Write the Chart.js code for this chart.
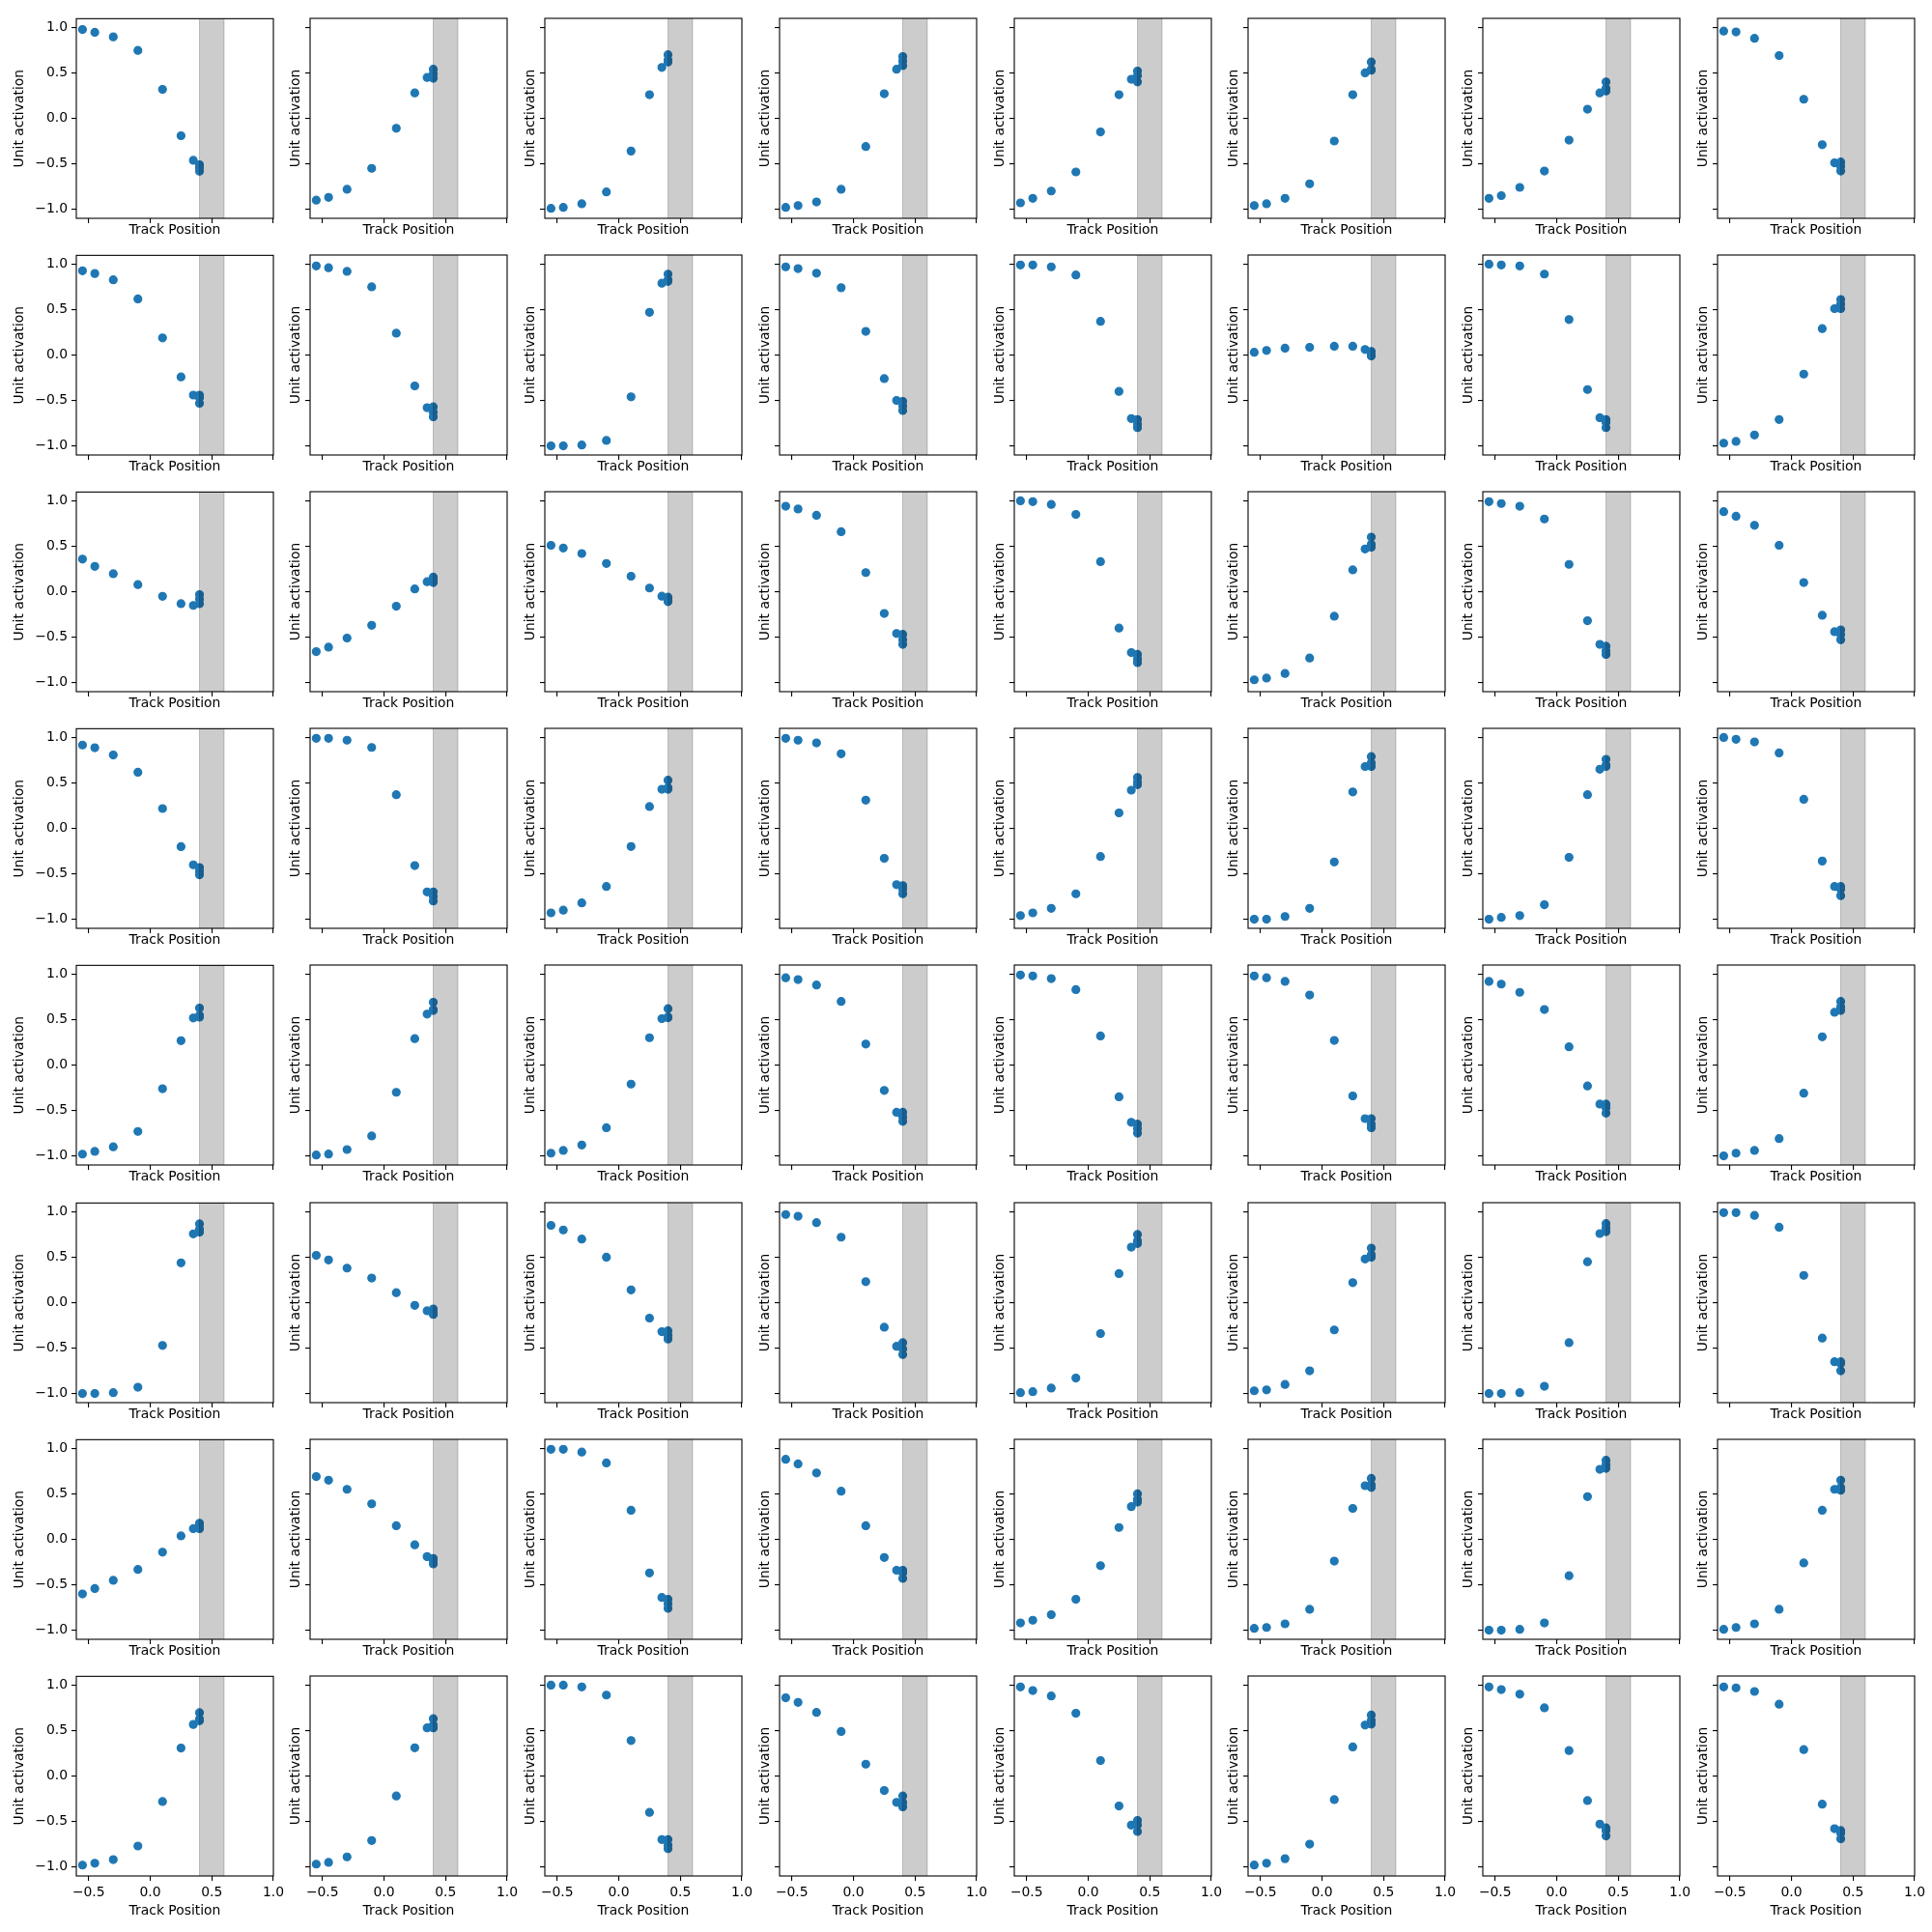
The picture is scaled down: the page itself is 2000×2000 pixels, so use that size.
<!DOCTYPE html>
<html><head><meta charset="utf-8">
<script src="https://cdn.jsdelivr.net/npm/chart.js@4/dist/chart.umd.min.js"></script>
<style>
html,body{margin:0;padding:0;background:#fff;}
#wrap{position:relative;width:2000px;height:2000px;overflow:hidden;background:#fff;}
#wrap canvas{position:absolute;}
</style></head><body><div id="wrap"></div>
<script>
// ---- data ----
const trackPositions = [-0.55, -0.45, -0.3, -0.1, 0.1, 0.25, 0.35, 0.4, 0.4, 0.4];
const unit1  = [0.98, 0.95, 0.90, 0.75, 0.32, -0.19, -0.46, -0.51, -0.54, -0.58];
const unit2  = [-0.90, -0.87, -0.78, -0.55, -0.11, 0.28, 0.45, 0.54, 0.49, 0.44];
const unit3  = [-0.99, -0.98, -0.94, -0.81, -0.36, 0.26, 0.56, 0.70, 0.64, 0.62];
const unit4  = [-0.98, -0.96, -0.92, -0.78, -0.31, 0.27, 0.54, 0.68, 0.63, 0.58];
const unit5  = [-0.93, -0.88, -0.80, -0.59, -0.15, 0.26, 0.43, 0.52, 0.47, 0.40];
const unit6  = [-0.96, -0.94, -0.88, -0.72, -0.25, 0.26, 0.50, 0.62, 0.54, 0.53];
const unit7  = [-0.88, -0.85, -0.76, -0.58, -0.24, 0.10, 0.28, 0.40, 0.33, 0.30];
const unit8  = [0.96, 0.95, 0.88, 0.69, 0.21, -0.29, -0.49, -0.48, -0.53, -0.58];
const unit9  = [0.93, 0.90, 0.83, 0.62, 0.19, -0.24, -0.44, -0.44, -0.47, -0.53];
const unit10 = [0.98, 0.96, 0.92, 0.75, 0.24, -0.34, -0.58, -0.57, -0.63, -0.68];
const unit11 = [-1.00, -1.00, -0.99, -0.94, -0.46, 0.47, 0.79, 0.89, 0.83, 0.81];
const unit12 = [0.97, 0.95, 0.90, 0.74, 0.26, -0.26, -0.50, -0.51, -0.56, -0.61];
const unit13 = [0.99, 0.99, 0.97, 0.88, 0.37, -0.40, -0.70, -0.71, -0.76, -0.80];
const unit14 = [0.03, 0.05, 0.075, 0.085, 0.096, 0.096, 0.06, 0.04, 0.0, -0.01];
const unit15 = [1.00, 0.99, 0.98, 0.89, 0.39, -0.38, -0.69, -0.71, -0.74, -0.80];
const unit16 = [-0.97, -0.95, -0.88, -0.71, -0.21, 0.29, 0.51, 0.61, 0.56, 0.51];
const unit17 = [0.36, 0.28, 0.20, 0.08, -0.05, -0.13, -0.15, -0.03, -0.08, -0.13];
const unit18 = [-0.66, -0.61, -0.51, -0.37, -0.16, 0.03, 0.11, 0.16, 0.13, 0.10];
const unit19 = [0.51, 0.48, 0.42, 0.31, 0.17, 0.04, -0.05, -0.06, -0.09, -0.11];
const unit20 = [0.94, 0.91, 0.84, 0.66, 0.21, -0.24, -0.46, -0.47, -0.53, -0.58];
const unit21 = [1.00, 0.99, 0.96, 0.85, 0.33, -0.40, -0.67, -0.69, -0.74, -0.78];
const unit22 = [-0.97, -0.95, -0.90, -0.73, -0.27, 0.24, 0.47, 0.60, 0.52, 0.49];
const unit23 = [0.99, 0.97, 0.94, 0.80, 0.30, -0.32, -0.58, -0.60, -0.65, -0.69];
const unit24 = [0.88, 0.83, 0.73, 0.51, 0.10, -0.26, -0.44, -0.42, -0.47, -0.53];
const unit25 = [0.92, 0.89, 0.81, 0.62, 0.22, -0.20, -0.40, -0.43, -0.47, -0.51];
const unit26 = [0.99, 0.99, 0.97, 0.89, 0.37, -0.41, -0.70, -0.70, -0.75, -0.80];
const unit27 = [-0.93, -0.90, -0.82, -0.64, -0.20, 0.24, 0.43, 0.53, 0.45, 0.43];
const unit28 = [0.99, 0.97, 0.94, 0.82, 0.31, -0.33, -0.62, -0.63, -0.67, -0.72];
const unit29 = [-0.96, -0.93, -0.88, -0.72, -0.31, 0.17, 0.42, 0.56, 0.51, 0.48];
const unit30 = [-1.00, -1.00, -0.97, -0.88, -0.37, 0.40, 0.68, 0.79, 0.72, 0.68];
const unit31 = [-1.00, -0.98, -0.96, -0.84, -0.32, 0.37, 0.65, 0.76, 0.70, 0.68];
const unit32 = [1.00, 0.98, 0.95, 0.83, 0.32, -0.36, -0.64, -0.64, -0.67, -0.74];
const unit33 = [-0.98, -0.95, -0.90, -0.73, -0.26, 0.27, 0.52, 0.63, 0.55, 0.53];
const unit34 = [-0.99, -0.98, -0.93, -0.78, -0.30, 0.29, 0.56, 0.69, 0.61, 0.60];
const unit35 = [-0.97, -0.94, -0.88, -0.69, -0.21, 0.30, 0.51, 0.62, 0.53, 0.52];
const unit36 = [0.96, 0.94, 0.88, 0.70, 0.23, -0.28, -0.52, -0.52, -0.57, -0.62];
const unit37 = [0.99, 0.98, 0.95, 0.83, 0.32, -0.35, -0.63, -0.65, -0.70, -0.75];
const unit38 = [0.98, 0.96, 0.92, 0.77, 0.27, -0.34, -0.59, -0.59, -0.65, -0.69];
const unit39 = [0.92, 0.89, 0.80, 0.61, 0.20, -0.23, -0.43, -0.43, -0.47, -0.53];
const unit40 = [-1.00, -0.97, -0.94, -0.81, -0.31, 0.31, 0.58, 0.70, 0.64, 0.60];
const unit41 = [-1.00, -1.00, -0.99, -0.93, -0.47, 0.44, 0.76, 0.87, 0.81, 0.78];
const unit42 = [0.52, 0.47, 0.38, 0.27, 0.11, -0.03, -0.09, -0.07, -0.11, -0.13];
const unit43 = [0.85, 0.80, 0.70, 0.50, 0.14, -0.17, -0.32, -0.31, -0.36, -0.40];
const unit44 = [0.97, 0.95, 0.88, 0.72, 0.23, -0.27, -0.48, -0.44, -0.51, -0.57];
const unit45 = [-0.99, -0.98, -0.94, -0.83, -0.34, 0.32, 0.61, 0.75, 0.68, 0.65];
const unit46 = [-0.97, -0.96, -0.90, -0.75, -0.30, 0.22, 0.48, 0.60, 0.53, 0.50];
const unit47 = [-1.00, -1.00, -0.99, -0.92, -0.44, 0.45, 0.76, 0.87, 0.82, 0.78];
const unit48 = [0.99, 0.99, 0.96, 0.83, 0.30, -0.39, -0.65, -0.65, -0.67, -0.75];
const unit49 = [-0.60, -0.54, -0.45, -0.33, -0.14, 0.04, 0.12, 0.18, 0.14, 0.12];
const unit50 = [0.69, 0.65, 0.55, 0.39, 0.15, -0.06, -0.19, -0.21, -0.23, -0.27];
const unit51 = [0.99, 0.99, 0.96, 0.84, 0.32, -0.37, -0.64, -0.66, -0.71, -0.76];
const unit52 = [0.88, 0.83, 0.73, 0.53, 0.15, -0.20, -0.34, -0.34, -0.37, -0.43];
const unit53 = [-0.92, -0.89, -0.83, -0.66, -0.29, 0.13, 0.36, 0.50, 0.44, 0.41];
const unit54 = [-0.98, -0.97, -0.93, -0.77, -0.24, 0.34, 0.59, 0.67, 0.60, 0.57];
const unit55 = [-1.00, -1.00, -0.99, -0.92, -0.40, 0.47, 0.77, 0.87, 0.82, 0.78];
const unit56 = [-0.99, -0.97, -0.93, -0.77, -0.26, 0.32, 0.55, 0.65, 0.57, 0.54];
const unit57 = [-0.98, -0.96, -0.92, -0.77, -0.28, 0.31, 0.57, 0.70, 0.63, 0.61];
const unit58 = [-0.97, -0.95, -0.89, -0.71, -0.22, 0.31, 0.53, 0.63, 0.56, 0.53];
const unit59 = [1.00, 1.00, 0.98, 0.89, 0.39, -0.40, -0.70, -0.70, -0.76, -0.80];
const unit60 = [0.86, 0.81, 0.70, 0.49, 0.13, -0.16, -0.29, -0.22, -0.29, -0.34];
const unit61 = [0.98, 0.94, 0.88, 0.69, 0.17, -0.33, -0.54, -0.49, -0.54, -0.61];
const unit62 = [-0.98, -0.96, -0.91, -0.75, -0.26, 0.32, 0.56, 0.67, 0.61, 0.57];
const unit63 = [0.98, 0.95, 0.90, 0.75, 0.28, -0.27, -0.53, -0.57, -0.60, -0.66];
const unit64 = [0.98, 0.97, 0.93, 0.79, 0.29, -0.31, -0.58, -0.60, -0.63, -0.69];
const units = [unit1,unit2,unit3,unit4,unit5,unit6,unit7,unit8,unit9,unit10,unit11,unit12,unit13,unit14,unit15,unit16,
  unit17,unit18,unit19,unit20,unit21,unit22,unit23,unit24,unit25,unit26,unit27,unit28,unit29,unit30,unit31,unit32,
  unit33,unit34,unit35,unit36,unit37,unit38,unit39,unit40,unit41,unit42,unit43,unit44,unit45,unit46,unit47,unit48,
  unit49,unit50,unit51,unit52,unit53,unit54,unit55,unit56,unit57,unit58,unit59,unit60,unit61,unit62,unit63,unit64];
const xTickValues = [-0.5, 0.0, 0.5, 1.0];
const yTickValues = [-1.0, -0.5, 0.0, 0.5, 1.0];
const rewardZone = [0.4, 0.6];
const xLabel = 'Track Position';
const yLabel = 'Unit activation';

// ---- drawing ----
Chart.defaults.font.family = "'DejaVu Sans', sans-serif";
Chart.defaults.font.size = 13.9;
Chart.defaults.color = '#000';

const fmt = v => Number(v).toFixed(1).replace('-', '\u2212');

const panelDecor = {
  id: 'panelDecor',
  afterDatasetsDraw(chart) {
    const {ctx, chartArea: a, scales: {x}} = chart;
    const x0 = x.getPixelForValue(rewardZone[0]);
    const x1 = x.getPixelForValue(rewardZone[1]);
    ctx.save();
    ctx.fillStyle = 'rgba(0,0,0,0.2)';
    ctx.fillRect(x0, a.top, x1 - x0, a.bottom - a.top);
    ctx.strokeStyle = 'rgba(0,0,0,0.2)';
    ctx.lineWidth = 1;
    ctx.beginPath();
    ctx.moveTo(x0, a.top); ctx.lineTo(x0, a.bottom);
    ctx.moveTo(x1, a.top); ctx.lineTo(x1, a.bottom);
    ctx.stroke();
    ctx.restore();
  },
  afterDraw(chart) {
    const {ctx, chartArea: a} = chart;
    ctx.save();
    ctx.strokeStyle = '#000';
    ctx.lineWidth = 1.1;
    ctx.strokeRect(a.left, a.top, a.right - a.left, a.bottom - a.top);
    ctx.restore();
  }
};

const wrap = document.getElementById('wrap');
const AREA_W = 204, AREA_H = 207;
const PAD_T = 12, PAD_R = 20;

for (let r = 0; r < 8; r++) {
  for (let c = 0; c < 8; c++) {
    const idx = r * 8 + c;
    const firstCol = c === 0, lastRow = r === 7;
    const yW = firstCol ? 70 : 24;
    const yTitlePad = firstCol ? 3 : 0.7;
    const xH = lastRow ? 45 : 21;
    const areaL = Math.round(78.7 + c * 242.7);
    const areaT = Math.round(19 + r * 245.1);
    const cv = document.createElement('canvas');
    cv.width = yW + AREA_W + PAD_R;
    cv.height = PAD_T + AREA_H + xH;
    cv.style.width = cv.width + 'px';
    cv.style.height = cv.height + 'px';
    cv.style.left = (areaL - yW) + 'px';
    cv.style.top = (areaT - PAD_T) + 'px';
    wrap.appendChild(cv);

    const pts = trackPositions.map((x, i) => ({x: x, y: units[idx][i]}));
    new Chart(cv, {
      type: 'scatter',
      data: { datasets: [{ data: pts, backgroundColor: '#1f77b4', borderColor: '#1f77b4',
        pointRadius: 4, borderWidth: 1.2, pointHoverRadius: 4 }] },
      options: {
        responsive: false, animation: false, devicePixelRatio: 1,
        layout: { padding: { top: PAD_T, right: PAD_R, left: 0, bottom: 0 } },
        plugins: { legend: { display: false }, tooltip: { enabled: false } },
        events: [],
        scales: {
          x: {
            type: 'linear', min: -0.6, max: 1.0,
            afterBuildTicks: s => { s.ticks = xTickValues.map(v => ({value: v})); },
            afterFit: s => { s.height = xH; },
            ticks: { display: lastRow, padding: 4, autoSkip: false, maxRotation: 0, callback: v => fmt(v), color: '#000' },
            grid: { drawOnChartArea: false, drawTicks: true, tickLength: 5, color: '#000', lineWidth: 1.1 },
            border: { display: false },
            title: { display: true, text: xLabel, padding: 0, color: '#000', font: { size: 13.9, lineHeight: 1.2 } }
          },
          y: {
            type: 'linear', min: -1.1, max: 1.1,
            afterBuildTicks: s => { s.ticks = yTickValues.map(v => ({value: v})); },
            afterFit: s => { s.width = yW; },
            ticks: { display: firstCol, padding: 4, autoSkip: false, callback: v => fmt(v), color: '#000' },
            grid: { drawOnChartArea: false, drawTicks: true, tickLength: 5, color: '#000', lineWidth: 1.1 },
            border: { display: false },
            title: { display: true, text: yLabel, padding: { top: yTitlePad, bottom: 0 }, color: '#000', font: { size: 13.9, lineHeight: 1.2 } }
          }
        }
      },
      plugins: [panelDecor]
    });
  }
}
</script>
</body></html>
